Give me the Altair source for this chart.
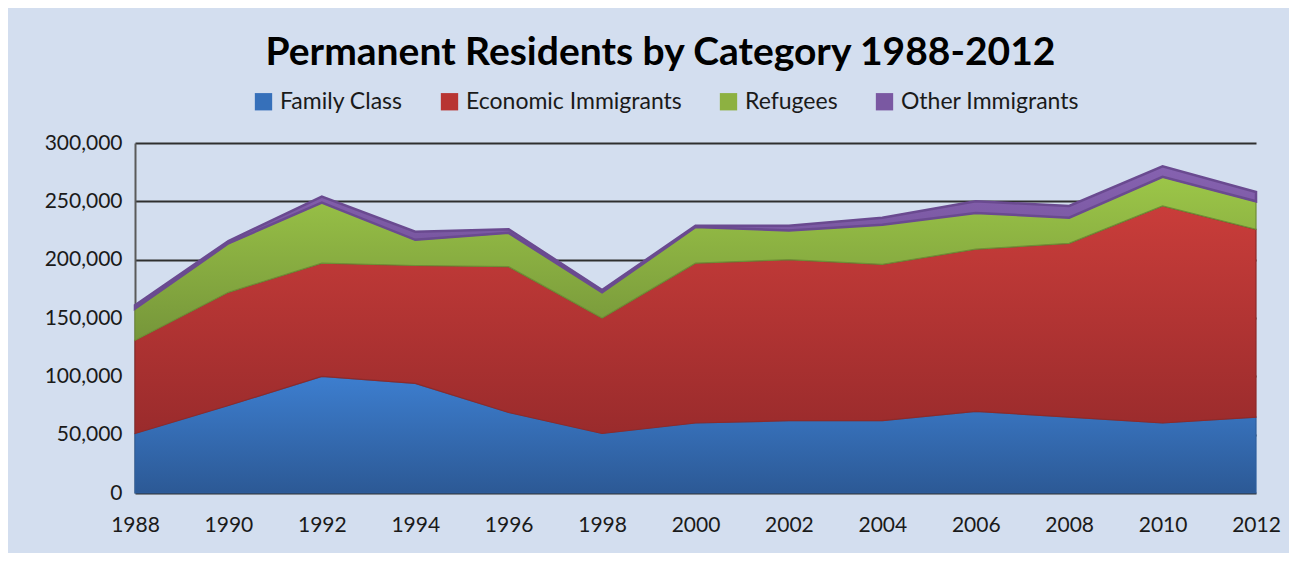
import altair as alt
import pandas as pd

years = [1988, 1990, 1992, 1994, 1996, 1998, 2000, 2002, 2004, 2006, 2008, 2010, 2012]
family = [51000, 75000, 100000, 94000, 69000, 51000, 60000, 62000, 62000, 70000, 65000, 60000, 65000]
economic = [80000, 97000, 97000, 101000, 125000, 99000, 137000, 138000, 134000, 139000, 149000, 186000, 161000]
refugees = [27000, 42000, 52000, 22000, 29000, 22000, 31000, 25000, 34000, 31000, 22000, 25000, 24000]
other = [3000, 2000, 5000, 7000, 3000, 2000, 1000, 4000, 6000, 10000, 10000, 9000, 8000]

series_names = ["Family Class", "Economic Immigrants", "Refugees", "Other Immigrants"]
series_values = [family, economic, refugees, other]
mid_colors = ["#3670BA", "#B83533", "#8DB141", "#7A58A2"]
grad_colors = [("#3D7ECF", "#2C5995"), ("#C93D3A", "#9A2B2C"), ("#9CC648", "#76963A"), ("#8662B0", "#6E4E94")]
edge_colors = ["#2F5F9E", "#8E2A2A", "#6F8E36", "#6A4A90"]
x_ticks = years
y_ticks = [0, 50000, 100000, 150000, 200000, 250000, 300000]

rows = []
for i, (name, vals) in enumerate(zip(series_names, series_values)):
    for yr, v in zip(years, vals):
        rows.append({"year": yr, "series": name, "value": v, "order": i})
df = pd.DataFrame(rows)

FONT = "Lato"

base = alt.Chart(df).transform_stack(
    stack="value", groupby=["year"], as_=["y0", "y1"], sort=[alt.SortField("order")]
)

x_enc = alt.X(
    "year:Q",
    scale=alt.Scale(domain=[1988, 2012], nice=False, zero=False),
    axis=alt.Axis(values=x_ticks, format="d", title=None, grid=False, domain=False, ticks=False,
                  labelFont=FONT, labelFontSize=21, labelColor="#1a1a1a", labelPadding=21,
                  labelFlush=False),
)
y_enc = alt.Y(
    "y1:Q",
    scale=alt.Scale(domain=[0, 300000], nice=False),
    axis=alt.Axis(values=y_ticks, title=None, grid=True, gridColor="#2f2f2f", gridWidth=2,
                  labelExpr="format(datum.value, ',.0f')",
                  domain=True, domainColor="#5a5a5a", domainWidth=2, ticks=False,
                  labelFont=FONT, labelFontSize=21, labelColor="#1a1a1a", labelPadding=13),
)

legend_layer = base.mark_area().encode(
    x=x_enc,
    y=y_enc,
    y2="y0:Q",
    color=alt.Color(
        "series:N",
        scale=alt.Scale(domain=series_names, range=mid_colors),
        legend=alt.Legend(
            title=None, orient="none", direction="horizontal", legendX=117, legendY=-53,
            symbolType="square", symbolSize=300, symbolStrokeWidth=0, labelFont=FONT,
            labelFontSize=23, labelColor="#1a1a1a", columnPadding=35, labelOffset=5,
            labelLimit=400,
        ),
    ),
    order=alt.Order("order:Q"),
)

layers = [legend_layer]
for i, name in enumerate(series_names):
    top, bot = grad_colors[i]
    grad = alt.Gradient(
        gradient="linear",
        stops=[alt.GradientStop(color=top, offset=0), alt.GradientStop(color=bot, offset=1)],
        x1=0, x2=0, y1=0, y2=1,
    )
    layers.append(
        base.transform_filter(alt.datum.series == name)
        .mark_area(fill=grad, stroke=edge_colors[i], strokeWidth=1.2 if i < 3 else 2.5, opacity=1)
        .encode(x=x_enc, y=y_enc, y2="y0:Q")
    )

chart = alt.layer(*layers).properties(
    width=1121,
    height=350,
    title=alt.TitleParams(
        "Permanent Residents by Category 1988-2012", font=FONT, fontSize=39, fontWeight="bold",
        color="#000000", anchor="middle", dx=-35, offset=17,
    ),
    autosize=alt.AutoSizeParams(type="none"),
    padding={"left": 127, "top": 135, "right": 33, "bottom": 60},
    background="#D3DEEF",
).configure_view(stroke=None)

chart.save("out.html", embed_options={"renderer": "svg", "actions": False})
